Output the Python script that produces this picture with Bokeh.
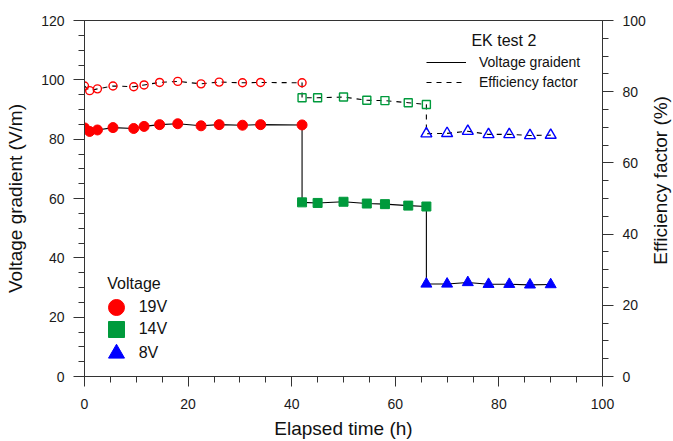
import math
from bokeh.plotting import figure
from bokeh.layouts import row
from bokeh.models import (Range1d, LinearAxis, SingleIntervalTicker, Legend,
                          LegendItem, Label)
from bokeh.embed import file_html
from bokeh.resources import INLINE

# ---- data ----
t_19 = [0, 1, 2.5, 5.5, 9.5, 11.5, 14.5, 18, 22.5, 26, 30.5, 34, 42]
v_19 = [83.8, 82.6, 83.1, 83.9, 83.6, 84.3, 84.9, 85.2, 84.5, 84.9, 84.7, 84.9, 84.8]
e_19 = [81.6, 80.3, 80.8, 81.6, 81.4, 81.9, 82.6, 82.9, 82.2, 82.7, 82.5, 82.6, 82.5]

t_14 = [42, 45, 50, 54.5, 58, 62.5, 66]
v_14 = [58.7, 58.5, 58.9, 58.3, 58.1, 57.6, 57.3]
e_14 = [78.3, 78.3, 78.5, 77.6, 77.5, 76.9, 76.4]

t_8 = [66, 70, 74, 78, 82, 86, 90]
v_8 = [31.2, 31.2, 31.7, 31.1, 31.1, 30.9, 31.0]
e_8 = [68.2, 68.3, 68.9, 68.0, 68.0, 67.7, 67.8]

voltage_labels = ["19V", "14V", "8V"]
line_labels = ["Voltage graident", "Efficiency factor"]

RED = "#ff0000"
GREEN = "#009a3c"
BLUE = "#0000ff"
AX = "#333333"
TXT = "#111111"
FONT = "Liberation Sans"

p = figure(width=650, height=441, x_range=Range1d(0, 100), y_range=Range1d(0, 120),
           output_backend="svg", toolbar_location=None,
           min_border_left=84, min_border_right=48, min_border_top=20, min_border_bottom=65)
p.extra_y_ranges = {"eff": Range1d(0, 100)}
p.xgrid.visible = False
p.ygrid.visible = False
p.outline_line_color = AX
p.outline_line_width = 1
p.background_fill_color = "white"
p.border_fill_color = "white"

def style_axis(ax, tick_out, standoff, label_standoff):
    ax.ticker = SingleIntervalTicker(interval=20, num_minor_ticks=4)
    ax.axis_line_color = AX
    ax.major_tick_line_color = AX
    ax.minor_tick_line_color = AX
    ax.major_tick_in = 0
    ax.major_tick_out = tick_out
    ax.minor_tick_in = 0
    ax.minor_tick_out = 6
    ax.major_label_standoff = standoff
    ax.major_label_text_font = FONT
    ax.major_label_text_font_size = "14px"
    ax.major_label_text_color = "#1a1a1a"
    ax.axis_label_text_font = FONT
    ax.axis_label_text_font_size = "19px"
    ax.axis_label_text_font_style = "normal"
    ax.axis_label_text_color = TXT
    ax.axis_label_standoff = label_standoff

p.xaxis.axis_label = "Elapsed time (h)"
p.yaxis.axis_label = "Voltage gradient (V/m)"
style_axis(p.xaxis[0], 10, 12, 6)
style_axis(p.yaxis[0], 11, 9, 12)

rax = LinearAxis(y_range_name="eff")
style_axis(rax, 11, 9, 3)
p.add_layout(rax, "right")

# ---- connecting lines ----
t_all = t_19 + t_14 + t_8
v_all = v_19 + v_14 + v_8
e_all = e_19 + e_14 + e_8
line_v = p.line(t_all, v_all, line_color="black", line_width=1.1)
line_e = p.line(t_all, e_all, line_color="black", line_width=1.1, line_dash="5 5",
                y_range_name="eff")

# ---- markers: voltage (filled) ----
r19 = p.scatter(t_19, v_19, marker="circle", size=10, fill_color=RED, line_color=RED)
r14 = p.scatter(t_14, v_14, marker="square", size=9, fill_color=GREEN, line_color=GREEN)
r8 = p.scatter(t_8, v_8, marker="triangle", size=11, fill_color=BLUE, line_color=BLUE)

# ---- markers: efficiency (hollow) ----
p.scatter(t_19, e_19, marker="circle", size=8, fill_color=None, line_color=RED,
          line_width=1.4, y_range_name="eff")
p.scatter(t_14, e_14, marker="square", size=8, fill_color=None, line_color=GREEN,
          line_width=1.4, y_range_name="eff")
p.scatter(t_8, e_8, marker="triangle", size=11, fill_color=None, line_color=BLUE,
          line_width=1.4, y_range_name="eff")

def plain_legend(items, location, **kw):
    lg = Legend(items=items, location=location, padding=0, margin=0,
                border_line_alpha=0, background_fill_alpha=0,
                label_text_font=FONT, label_text_color=TXT, **kw)
    p.add_layout(lg)
    return lg

# top-right legend (line styles)
plain_legend([LegendItem(label=line_labels[0], renderers=[line_v]),
              LegendItem(label=line_labels[1], renderers=[line_e])],
             (342, 286), glyph_width=40, glyph_height=16, label_height=16,
             spacing=4, label_standoff=13, label_text_font_size="14px")
p.add_layout(Label(x=74.7, y=113.2, text="EK test 2", text_baseline="middle",
                   text_font=FONT, text_font_size="16px", text_color=TXT))

# bottom-left legend (voltage markers)
p.add_layout(Label(x=4.4, y=31.4, text="Voltage", text_baseline="middle",
                   text_font=FONT, text_font_size="16px", text_color=TXT))
for rend, lab, vy in zip([r19, r14, r8], voltage_labels, [49.3, 26.7, 3.3]):
    plain_legend([LegendItem(label=lab, renderers=[rend])], (11.7, vy),
                 glyph_width=40, glyph_height=40, label_standoff=3,
                 label_text_font_size="16px")

# ---- narrow strip holding the right-hand axis title (reads bottom-to-top) ----
p2 = figure(width=23, height=441, x_range=Range1d(0, 1), y_range=Range1d(0, 1),
            output_backend="svg", toolbar_location=None,
            x_axis_location=None, y_axis_location=None,
            min_border_left=0, min_border_right=0, min_border_top=0, min_border_bottom=0)
p2.xgrid.visible = False
p2.ygrid.visible = False
p2.outline_line_color = None
p2.background_fill_color = "white"
p2.border_fill_color = "white"
p2.add_layout(Label(x=0.43, y=0.551, text="Efficiency factor (%)", angle=math.pi / 2,
                    text_align="center", text_baseline="middle",
                    text_font=FONT, text_font_size="19px", text_color=TXT))

layout = row(p, p2, spacing=0)
open("out.html", "w").write(file_html(layout, INLINE))
